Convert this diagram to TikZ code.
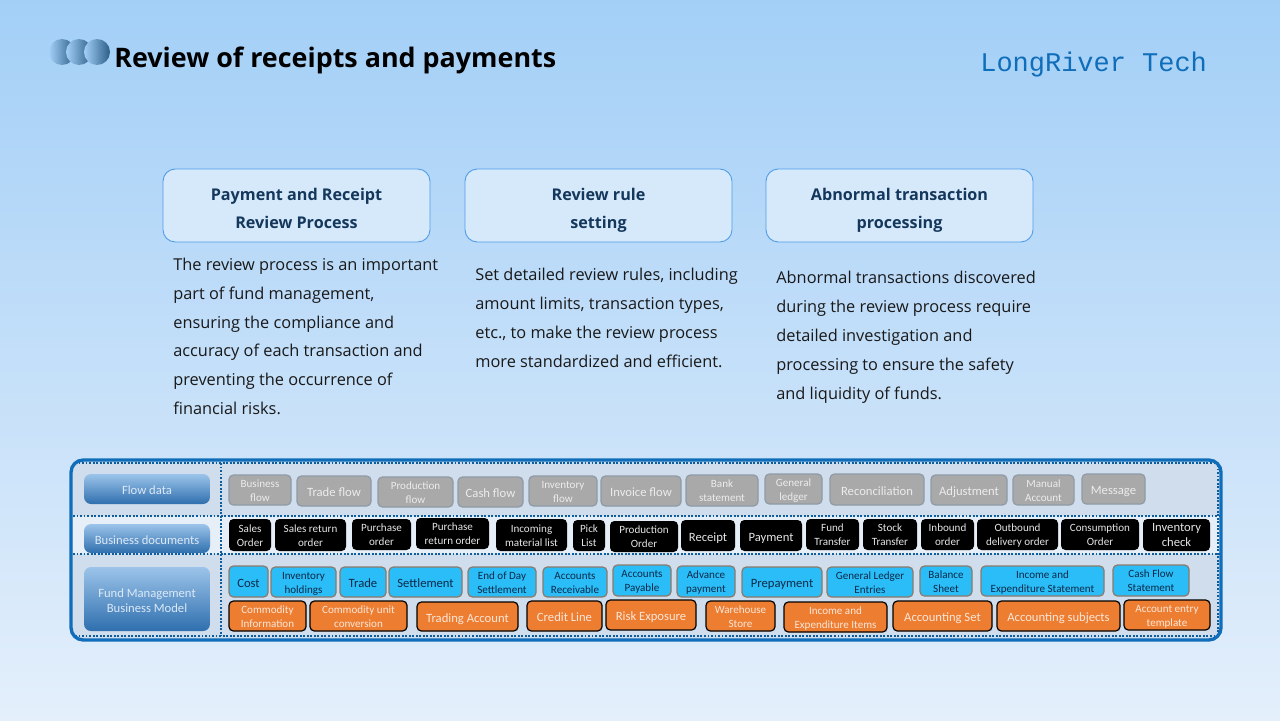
\documentclass[tikz,border=0pt]{standalone}
\usepackage{fontspec}
\setmainfont{Carlito}
\newfontfamily\bodyfont{Open Sans}
\newfontfamily\codefont{Liberation Mono}
\usetikzlibrary{positioning}

\definecolor{bgtop}{HTML}{A3CFF7}
\definecolor{bgbot}{HTML}{E4EFFB}
\definecolor{framecol}{HTML}{0F6DB9}
\definecolor{panelcol}{HTML}{D0DDEC}
\definecolor{rowcol}{HTML}{E6EEF8}
\definecolor{navycol}{HTML}{14375C}
\definecolor{headfill}{HTML}{D6E9FB}
\definecolor{headline}{HTML}{4F9BE8}
\definecolor{sidetop}{HTML}{9CC4EA}
\definecolor{sidebot}{HTML}{2F6FAE}
\definecolor{sidetext}{HTML}{DCE9F6}
\definecolor{flowfill}{HTML}{A9A9A9}
\definecolor{flowline}{HTML}{8E9AA6}
\definecolor{flowtext}{HTML}{ECECEC}
\definecolor{costfill}{HTML}{2ABDF7}
\definecolor{costline}{HTML}{8C7A6B}
\definecolor{costtext}{HTML}{0B2A4A}
\definecolor{basefill}{HTML}{ED7D31}
\definecolor{basetext}{HTML}{FBE7D9}
\definecolor{ballmid}{HTML}{8FB2C9}
\definecolor{ballend}{HTML}{2B5E87}

\tikzset{
  ruleset/.style 2 args={/utils/exec=\def\ruleh{#1}\def\ruled{#2}},
  ruled/.style={execute at begin node=\rule{0pt}{\ruleh},execute at end node=\rule[-\ruled]{0pt}{\ruled}},
  twoline/.style={ruleset={14.6pt}{1.6pt}},
  oneline/.style={ruleset={8pt}{1.4pt}},
  headbox/.style={ruled,ruleset={29.3pt}{2.6pt},draw=headline,line width=0.5pt,rounded corners=7pt,fill=headfill,
    text=navycol,align=center,inner sep=0pt,font=\bodyfont\bfseries\fontsize{9.2}{16}\selectfont},
  bodytext/.style={anchor=north west,align=left,inner sep=0pt,text=black!90,font=\bodyfont\fontsize{9.3}{16.44}\selectfont},
  boxtext/.style={ruled,twoline,align=center,inner sep=0pt,font=\fontsize{6.3}{8}\selectfont},
  sidebox/.style={ruled,oneline,align=center,inner sep=0pt,rounded corners=4pt,top color=sidetop,bottom color=sidebot,
    text=sidetext,font=\fontsize{7.2}{8.6}\selectfont},
  flowbox/.style={boxtext,draw=flowline,line width=0.7pt,rounded corners=2.5pt,fill=flowfill,text=flowtext},
  docbox/.style={boxtext,rounded corners=2.5pt,fill=black,text=black!10},
  costbox/.style={boxtext,draw=costline,line width=0.7pt,rounded corners=2.5pt,fill=costfill,text=costtext},
  basebox/.style={boxtext,draw=black,line width=0.7pt,rounded corners=2.5pt,fill=basefill,text=basetext},
  bigtext/.style={oneline,font=\fontsize{7.2}{8.6}\selectfont},
  dotline/.style={draw=framecol!85!black,line width=1pt,dash pattern=on 1.1pt off 0.9pt},
}

% box from its left, top, right and bottom edge in pixels
\newcommand{\pbox}[7][]{%
  \node[#2,#1,minimum width={(#5-#3)*0.02cm},minimum height={(#6-#4)*0.02cm}] (#7)
    at ({(#3+#5)/2},{(#4+#6)/2})}

\begin{document}
\begin{tikzpicture}[x=0.02cm,y=-0.02cm]
\useasboundingbox (0,0) rectangle (1280,720);
\shade[top color=bgtop,bottom color=bgbot] (0,0) rectangle (1280,720);

% title
\shade[left color=bgtop,middle color=ballmid,right color=ballend] (62,52) circle (13);
\shade[left color=bgtop,middle color=ballmid,right color=ballend] (79,52) circle (13);
\shade[left color=bgtop,middle color=ballmid,right color=ballend] (97,52) circle (13);
\node[anchor=west,inner sep=0pt,font=\bodyfont\bfseries\fontsize{15.3}{18}\selectfont] (title) at (114,60) {Review of receipts and payments};
\node[anchor=west,inner sep=0pt,text=framecol,font=\codefont\fontsize{15.35}{18}\selectfont] (brand) at (980,65) {LongRiver Tech};

% three columns
\pbox{headbox}{163}{169}{430}{242}{hdreview} {Payment and Receipt\\Review Process};
\pbox{headbox}{465}{169}{732}{242}{hdrule} {Review rule\\setting};
\pbox{headbox}{766}{169}{1033}{242}{hdabnormal} {Abnormal transaction\\processing};
\node[bodytext] (txreview) at (173,257.5) {The review process is an important\\part of fund management,\\ensuring the compliance and\\accuracy of each transaction and\\preventing the occurrence of\\financial risks.};
\node[bodytext] (txrule) at (475,268) {Set detailed review rules, including\\amount limits, transaction types,\\etc., to make the review process\\more standardized and efficient.};
\node[bodytext] (txabnormal) at (776,271) {Abnormal transactions discovered\\during the review process require\\detailed investigation and\\processing to ensure the safety\\and liquidity of funds.};

% panel
\fill[panelcol,rounded corners=7pt] (71,460) rectangle (1221,640);
\fill[rowcol] (73,516) rectangle (1219,554);
\draw[dotline] (73,516) -- (1219,516);
\draw[dotline] (73,554) -- (1219,554);
\draw[dotline] (75,636) -- (1216,636);
\draw[dotline] (75,463) -- (1216,463);
\draw[dotline] (221,463) -- (221,636);
\draw[dotline] (1218,465) -- (1218,634);
\draw[framecol,line width=1.9pt,rounded corners=7pt] (71,460) rectangle (1221,640);

\pbox{sidebox}{84}{474}{210}{504}{sdflow} {Flow data};
\pbox{sidebox}{84}{524}{210}{553}{sddoc} {Business documents};
\pbox[ruleset={17pt}{1.6pt}]{sidebox}{84}{567}{210}{631}{sdfund} {Fund Management\\Business Model};

% flow data
\pbox{flowbox}{229}{475}{291}{505}{flbusiness} {Business\\flow};
\pbox[bigtext]{flowbox}{297}{476}{371}{506}{fltrade} {Trade flow};
\pbox{flowbox}{378}{477}{453}{507}{flproduction} {Production\\flow};
\pbox[bigtext]{flowbox}{458}{477}{523}{507}{flcash} {Cash flow};
\pbox{flowbox}{529}{476}{597}{506}{flinventory} {Inventory\\flow};
\pbox[bigtext]{flowbox}{601}{476}{681}{506}{flinvoice} {Invoice flow};
\pbox{flowbox}{686}{475}{758}{506}{flbank} {Bank\\statement};
\pbox{flowbox}{765}{474}{822}{504}{flledger} {General\\ledger};
\pbox[bigtext]{flowbox}{830}{474}{924}{505}{flreconcile} {Reconciliation};
\pbox[bigtext]{flowbox}{931}{475}{1007}{505}{fladjust} {Adjustment};
\pbox{flowbox}{1013}{475}{1074}{505}{flmanual} {Manual\\Account};
\pbox[bigtext]{flowbox}{1082}{474}{1145}{504}{flmessage} {Message};

% business documents
\pbox{docbox}{229}{519}{271}{551}{dcsales} {Sales\\Order};
\pbox{docbox}{275}{519}{346}{551}{dcsalesret} {Sales return\\order};
\pbox{docbox}{352}{519}{411}{550}{dcpurchase} {Purchase\\order};
\pbox{docbox}{416}{518}{489}{549}{dcpurchret} {Purchase\\return order};
\pbox{docbox}{496}{519}{567}{551}{dcincoming} {Incoming\\material list};
\pbox{docbox}{573}{520}{605}{551}{dcpick} {Pick\\List};
\pbox{docbox}{610}{521}{678}{552}{dcprod} {Production\\Order};
\pbox[bigtext]{docbox}{681}{520}{735}{551}{dcreceipt} {Receipt};
\pbox[bigtext]{docbox}{740}{520}{802}{551}{dcpayment} {Payment};
\pbox{docbox}{806}{519}{859}{550}{dcfund} {Fund\\Transfer};
\pbox{docbox}{863}{519}{917}{550}{dcstock} {Stock\\Transfer};
\pbox{docbox}{921}{519}{974}{550}{dcinbound} {Inbound\\order};
\pbox{docbox}{977}{519}{1058}{550}{dcoutbound} {Outbound\\delivery order};
\pbox{docbox}{1061}{519}{1139}{550}{dcconsume} {Consumption\\Order};
\pbox[bigtext,twoline]{docbox}{1143}{519}{1210}{551}{dccheck} {Inventory\\check};

% fund model, upper row
\pbox[bigtext]{costbox}{229}{566}{268}{597}{ctcost} {Cost};
\pbox{costbox}{271}{567}{336}{597}{ctholdings} {Inventory\\holdings};
\pbox[bigtext]{costbox}{340}{567}{386}{597}{cttrade} {Trade};
\pbox[bigtext]{costbox}{389}{567}{462}{597}{ctsettle} {Settlement};
\pbox{costbox}{468}{567}{536}{597}{cteod} {End of Day\\Settlement};
\pbox{costbox}{543}{567}{607}{597}{ctreceivable} {Accounts\\Receivable};
\pbox{costbox}{613}{565}{671}{596}{ctpayable} {Accounts\\Payable};
\pbox{costbox}{677}{566}{735}{597}{ctadvance} {Advance\\payment};
\pbox[bigtext]{costbox}{742}{567}{822}{597}{ctprepay} {Prepayment};
\pbox{costbox}{827}{567}{913}{597}{ctentries} {General Ledger\\Entries};
\pbox{costbox}{920}{566}{972}{596}{ctbalance} {Balance\\Sheet};
\pbox{costbox}{981}{566}{1104}{596}{ctincome} {Income and\\Expenditure Statement};
\pbox{costbox}{1113}{565}{1189}{596}{ctcash} {Cash Flow\\Statement};

% fund model, lower row
\pbox{basebox}{229}{601}{306}{631}{bsinfo} {Commodity\\Information};
\pbox{basebox}{310}{601}{407}{631}{bsunit} {Commodity unit\\conversion};
\pbox[bigtext]{basebox}{417}{602}{518}{631}{bstrading} {Trading Account};
\pbox[bigtext]{basebox}{527}{601}{602}{631}{bscredit} {Credit Line};
\pbox[bigtext]{basebox}{606}{600}{696}{630}{bsrisk} {Risk Exposure};
\pbox{basebox}{706}{601}{775}{631}{bsstore} {Warehouse\\Store};
\pbox{basebox}{784}{602}{887}{632}{bsitems} {Income and\\Expenditure Items};
\pbox[bigtext]{basebox}{893}{601}{992}{631}{bsset} {Accounting Set};
\pbox[bigtext]{basebox}{997}{601}{1120}{631}{bssubject} {Accounting subjects};
\pbox{basebox}{1124}{600}{1210}{630}{bstemplate} {Account entry\\template};
\end{tikzpicture}
\end{document}
